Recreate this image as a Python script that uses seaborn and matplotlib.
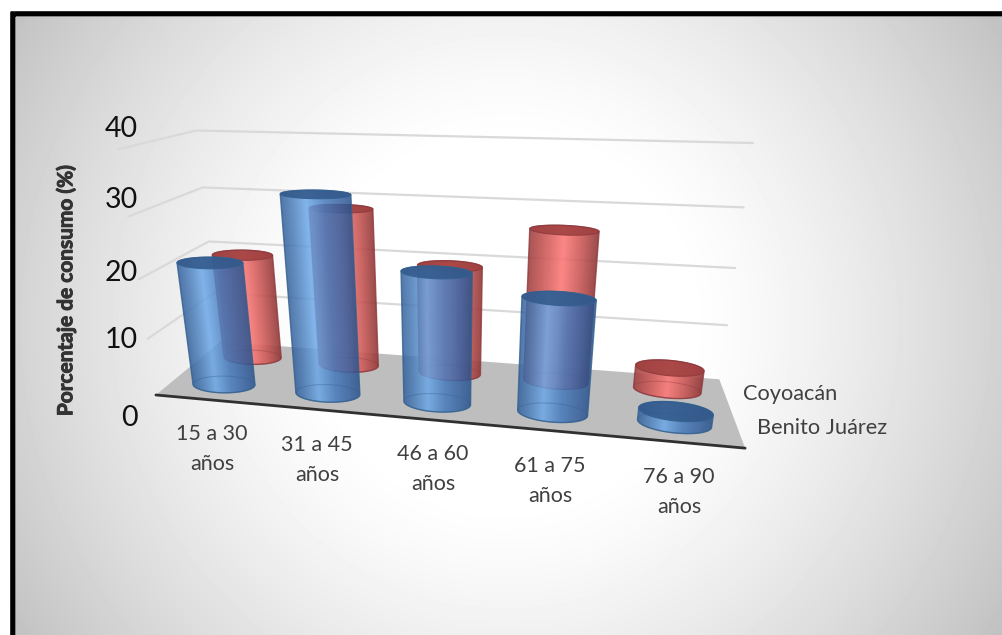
import numpy as np
import pandas as pd
import matplotlib
matplotlib.use("Agg")
import matplotlib.pyplot as plt
import matplotlib.patheffects as pe
from matplotlib.patches import Polygon, FancyBboxPatch
import seaborn as sns

categories = ["15 a 30\naños", "31 a 45\naños", "46 a 60\naños", "61 a 75\naños", "76 a 90\naños"]
series_names = ["Coyoacán", "Benito Juárez"]
coyoacan = [19.5, 28.5, 19.5, 26.5, 4]
benito_juarez = [21.5, 33.2, 22, 19, 2]
y_ticks = [0, 10, 20, 30, 40]
y_title = "Porcentaje de consumo (%)"

# camera calibration: world (category, depth, value) -> pixel
world_pts = np.array([(0,0,0),(5,0,0),(0,2,0),(5,2,0),(0,2,40),(5,2,40),(0,0,40),(0,0,10),(0,0,20),(0,0,30),
                      (5,2,10),(5,2,20),(5,2,30),(0,2,20),(0,2,30)], float)
pixel_pts = np.array([(157,395),(745,448),(218,341),(720,379),(197,130),(753,143),(117,149),(148,339),(139,280),(128,216),
                      (727,326),(735,268),(743,207),(210,242),(203,188)], float)
A, b = [], []
for (X, Y, Z), (u, v) in zip(world_pts, pixel_pts):
    A.append([X, Y, Z, 1, 0, 0, 0, 0, -u*X, -u*Y, -u*Z]); b.append(u)
    A.append([0, 0, 0, 0, X, Y, Z, 1, -v*X, -v*Y, -v*Z]); b.append(v)
P = np.linalg.lstsq(np.array(A), np.array(b), rcond=None)[0]
P = np.append(P, 1).reshape(3, 4)

def project(x, y, z):
    x, y, z = np.broadcast_arrays(np.asarray(x, float), np.asarray(y, float), np.asarray(z, float))
    h = P @ np.vstack([x.ravel(), y.ravel(), z.ravel(), np.ones(x.size)])
    return h[0]/h[2], h[1]/h[2]

def hull(pts):
    pts = sorted(map(tuple, pts))
    def half(seq):
        out = []
        for p in seq:
            while len(out) > 1 and (out[-1][0]-out[-2][0])*(p[1]-out[-2][1]) - (out[-1][1]-out[-2][1])*(p[0]-out[-2][0]) <= 0:
                out.pop()
            out.append(p)
        return out[:-1]
    return np.array(half(pts) + half(pts[::-1]))

sns.set_theme(style="white")
fig = plt.figure(figsize=(10.02, 6.35), dpi=100)
ax = fig.add_axes([0, 0, 1, 1])
ax.axis("off")

# page background
W, H = 1002, 635
yy, xx = np.mgrid[0:H, 0:W]
d = np.hypot(xx-505, yy-322) / 595
t = np.clip((d-0.3)/0.7, 0, 1)
g = (255 - 64*t**1.3) / 255
bg = ax.imshow(g, cmap="gray", vmin=0, vmax=1, extent=(0, W, H, 0), aspect="auto", zorder=0)
ax.add_patch(FancyBboxPatch((12, 13), W+40, H+40, boxstyle="round,pad=0,rounding_size=3",
                            fc="none", ec="black", lw=4.8, zorder=1))
ax.fill([0, W, W, 9, 9, 0], [0, 0, 10, 10, H, H], color="white", zorder=1.5)

# floor
fx, fy = project([0, 5, 5, 0], [0, 0, 2, 2], [0, 0, 0, 0])
ax.add_patch(Polygon(np.c_[fx, fy], fc="#bebebe", ec="none", zorder=2))
ex, ey = project([0, 5], [0, 0], [0, 0])
ax.plot(ex, ey, color="#303030", lw=2.0, zorder=2.1)

# gridlines on side and back walls
rows = []
for z in y_ticks[1:]:
    px, py = project([0, 0, 5], [0, 2, 2], [z, z, z])
    rows += [dict(px=a, py=b_, tick=z, order=i) for i, (a, b_) in enumerate(zip(px, py))]
grid = pd.DataFrame(rows)
sns.lineplot(data=grid, x="px", y="py", units="tick", estimator=None, sort=False,
             color="#d9d9d9", lw=1.6, ax=ax, zorder=3, legend=False)

def lerp_stops(u, stops):
    pos = [s[0] for s in stops]
    return np.stack([np.interp(u, pos, [s[1][i]/255 for s in stops]) for i in range(3)], -1)

BLUE = dict(stops=[(0,(52,96,155)),(0.14,(72,122,182)),(0.36,(108,168,232)),(0.62,(70,122,188)),(0.92,(48,90,152)),(1,(42,82,138))],
            top="#33598a", edge="#33608f", alpha=0.85)
RED = dict(stops=[(0,(160,66,66)),(0.2,(198,86,84)),(0.5,(252,122,120)),(0.78,(198,86,84)),(1,(145,56,56))],
           top="#a04040", edge="#8f3a3e", alpha=0.90)
RX, RY = 0.295, 0.27

def cylinder(xc, yc, value, st, z):
    th = np.linspace(0, 2*np.pi, 145)
    wx, wy = xc + RX*np.cos(th), yc + RY*np.sin(th)
    bx, by = project(wx, wy, 0*th)
    tx, ty = project(wx, wy, 0*th + value)
    hp = hull(np.r_[np.c_[bx, by], np.c_[tx, ty]])
    x0, x1, y0, y1 = int(hp[:,0].min())-2, int(hp[:,0].max())+3, int(hp[:,1].min())-2, int(hp[:,1].max())+3
    S = 3
    gy, gx = np.mgrid[y0:y1:complex(0, (y1-y0)*S), x0:x1:complex(0, (x1-x0)*S)]
    yb, yt = by.mean(), ty.mean()
    f = (gy-yb)/(yt-yb)
    xl = bx.min() + f*(tx.min()-bx.min())
    xr = bx.max() + f*(tx.max()-bx.max())
    u = np.clip((gx-xl)/(xr-xl), 0, 1)
    rgba = np.dstack([lerp_stops(u, st["stops"]), np.full(u.shape, st["alpha"])])
    im = ax.imshow(rgba, extent=(x0, x1, y1, y0), aspect="auto", zorder=z, interpolation="bilinear")
    body = Polygon(hp, closed=True, fc="none", ec=st["edge"], lw=1.0, alpha=0.8, zorder=z+0.02)
    ax.add_patch(body)
    im.set_clip_path(body)
    ax.add_patch(Polygon(np.c_[bx, by], closed=True, fc="none", ec=st["edge"], lw=0.7, alpha=0.4, zorder=z+0.01))
    ax.add_patch(Polygon(np.c_[tx, ty], closed=True, fc=st["top"], ec=st["edge"], lw=0.8, alpha=0.88, zorder=z+0.03))

for i, v in enumerate(coyoacan):
    cylinder(i+0.5, 1.5, v, RED, 4+i*0.1)
for i, v in enumerate(benito_juarez):
    cylinder(i+0.5, 0.5, v, BLUE, 5+i*0.1)

# value axis labels
tick_y = [418, 340, 273, 200, 129]
FONT = "Lato"
for t_, y in zip(y_ticks, tick_y):
    ax.text(138, y, str(t_), ha="right", va="center", fontsize=20.5, family=FONT, color="#111111", zorder=8)
ax.text(66, 290, y_title, rotation=90, ha="center", va="center", fontsize=15, fontweight="bold",
        family=FONT, color="#333333", zorder=8,
        path_effects=[pe.withStroke(linewidth=0.7, foreground="#333333")])

# category labels
cat_xy = [(212, 449), (317, 460), (433, 469), (550, 481), (679, 492)]
for (x, y), c in zip(cat_xy, categories):
    ax.text(x, y, c, ha="center", va="center", fontsize=15.5, family=FONT, color="#404040",
            linespacing=1.6, zorder=8)

# depth axis labels
ax.text(743, 394, series_names[0], ha="left", va="center", fontsize=15.7, family=FONT, color="#404040", zorder=8)
ax.text(757, 428, series_names[1], ha="left", va="center", fontsize=15.7, family=FONT, color="#404040", zorder=8)

ax.set_xlim(0, W)
ax.set_ylim(H, 0)
ax.set_xlabel("")
ax.set_ylabel("")
fig.savefig("out.png", dpi=100)
